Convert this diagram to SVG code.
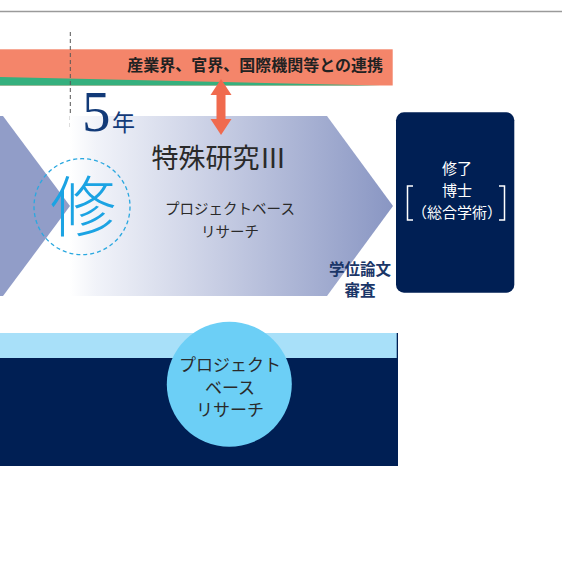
<svg xmlns="http://www.w3.org/2000/svg" width="562" height="579" viewBox="0 0 562 579">
<style>
.mincho{font-family:"Noto Sans CJK JP","Noto Sans",sans-serif;fill:#2a2a2a;text-anchor:middle}
.goth{font-family:"Noto Sans CJK JP","Noto Sans",sans-serif}
.serif{font-family:"Liberation Serif","DejaVu Serif",serif}
.wt{fill:#ffffff;text-anchor:middle;font-size:15px}
</style>
<defs>
<linearGradient id="ga" gradientUnits="userSpaceOnUse" x1="70" y1="0" x2="393" y2="0">
<stop offset="0" stop-color="#ffffff"/>
<stop offset="0.08" stop-color="#f1f3f9"/>
<stop offset="0.45" stop-color="#c8cee4"/>
<stop offset="1" stop-color="#8996c3"/>
</linearGradient>
</defs>
<rect width="562" height="579" fill="#ffffff"/>
<line x1="0" y1="11.5" x2="562" y2="11.5" stroke="#9a9a9a" stroke-width="1.6"/>

<g id="collab">
<rect x="0" y="49.3" width="392.7" height="36.2" fill="#f4856a"/>
<polygon points="0,77 380,85.5 0,85.5" fill="#35b07e"/>
<text class="goth" x="383" y="71" font-size="16" font-weight="700" fill="#222" text-anchor="end">産業界、官界、国際機関等との連携</text>
</g>

<line x1="70.3" y1="32" x2="70.3" y2="129" stroke="#555" stroke-width="1" stroke-dasharray="4,3"/>

<g id="prev-stage">
<polygon points="0,116 3,116 70,206 3,296 0,296" fill="#919dc8"/>
</g>

<g id="stage5">
<polygon points="70,116 327,116 393,206 327,296 70,296" fill="url(#ga)"/>
<text class="mincho" x="219" y="168" font-size="27">特殊研究Ⅲ</text>
<text class="mincho" x="230" y="214" font-size="14.5">プロジェクトベース</text>
<text class="mincho" x="230" y="237" font-size="14.5">リサーチ</text>
</g>

<g id="year">
<text class="serif" x="82" y="131" font-size="57" fill="#123a78">5</text>
<text x="112" y="131" font-family="'Noto Sans CJK JP',sans-serif" font-size="23" fill="#123a78">年</text>
</g>

<g id="shu">
<circle cx="82" cy="206.7" r="48" fill="none" stroke="#2aa8e0" stroke-width="1.3" stroke-dasharray="4,3"/>
<text x="83" y="231" font-family="'Noto Sans CJK JP',sans-serif" font-weight="300" font-size="66" fill="#1ba3e3" text-anchor="middle">修</text>
</g>

<g id="connectors">
<rect x="216.5" y="94" width="9" height="27" fill="#f06a4e"/>
<polygon points="221,79 231.5,95 210.5,95" fill="#f06a4e"/>
<polygon points="221,135 231.5,119 210.5,119" fill="#f06a4e"/>
</g>

<g id="review">
<text class="goth" x="360" y="275" font-size="15.5" font-weight="700" fill="#1b3668" text-anchor="middle">学位論文</text>
<text class="goth" x="360" y="296" font-size="15.5" font-weight="700" fill="#1b3668" text-anchor="middle">審査</text>
</g>

<g id="degree">
<rect x="396" y="112.3" width="118.3" height="180.4" rx="8" fill="#001f54"/>
<text class="goth wt" x="457" y="174">修了</text>
<text class="goth wt" x="457" y="196">博士</text>
<text class="goth wt" x="457" y="218">（総合学術）</text>
<polyline points="413,186 407.5,186 407.5,220 413,220" fill="none" stroke="#ffffff" stroke-width="1.5"/>
<polyline points="499,186 504.5,186 504.5,220 499,220" fill="none" stroke="#ffffff" stroke-width="1.5"/>
</g>

<g id="bottom-band">
<rect x="0" y="333" width="398" height="133" fill="#001f54"/>
<rect x="0" y="333" width="396.7" height="25" fill="#a8e0f9"/>
<circle cx="229.3" cy="384.2" r="62.5" fill="#6ccff6"/>
<text class="mincho" x="230" y="371" font-size="17">プロジェクト</text>
<text class="mincho" x="230" y="393.5" font-size="17">ベース</text>
<text class="mincho" x="230" y="416" font-size="17">リサーチ</text>
</g>
</svg>
